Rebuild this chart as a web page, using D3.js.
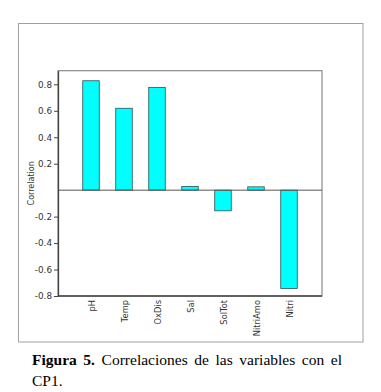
<!DOCTYPE html>
<html>
<head>
<meta charset="utf-8">
<script src="https://cdn.jsdelivr.net/npm/d3@7"></script>
<style>
  body { margin: 0; background: #fff; }
  svg { display: block; }
</style>
</head>
<body>
<div id="chart"></div>
<script>
const variables = ["pH", "Temp", "OxDis", "Sal", "SolTot", "NitriAmo", "Nitri"];
const correlations = [0.827, 0.619, 0.777, 0.027, -0.156, 0.025, -0.743];
const yTicks = [-0.8, -0.6, -0.4, -0.2, 0.2, 0.4, 0.6, 0.8];

const width = 381, height = 392;
const plot = { left: 58, right: 322, top: 70.7, bottom: 296 };

const svg = d3.select("#chart").append("svg")
  .attr("width", width)
  .attr("height", height);

// outer frame of the figure
svg.append("rect")
  .attr("x", 18.5).attr("y", 23.5)
  .attr("width", 344.5).attr("height", 318.5)
  .attr("fill", "none")
  .attr("stroke", "#a0a0a0")
  .attr("stroke-width", 1);

const x = d3.scalePoint()
  .domain(variables)
  .range([plot.left, plot.right])
  .padding(1);

const y = d3.scaleLinear()
  .domain([-0.8, 0.903])
  .range([plot.bottom, plot.top]);

const barW = 16.5;

// plot box
svg.append("rect")
  .attr("x", plot.left).attr("y", plot.top)
  .attr("width", plot.right - plot.left)
  .attr("height", plot.bottom - plot.top)
  .attr("fill", "none")
  .attr("stroke", "#8a8a8a")
  .attr("stroke-width", 1.2);

svg.append("g")
  .selectAll("rect")
  .data(variables.map((v, i) => ({ v, c: correlations[i] })))
  .join("rect")
  .attr("x", d => x(d.v) - barW / 2)
  .attr("y", d => y(Math.max(0, d.c)))
  .attr("width", barW)
  .attr("height", d => Math.abs(y(d.c) - y(0)))
  .attr("fill", "#00ffff")
  .attr("stroke", "#2f4f4f")
  .attr("stroke-width", 0.8);

// zero line
svg.append("line")
  .attr("x1", plot.left).attr("x2", plot.right)
  .attr("y1", y(0)).attr("y2", y(0))
  .attr("stroke", "#555")
  .attr("stroke-width", 1);

const yAxis = svg.append("g")
  .attr("transform", `translate(${plot.left},0)`)
  .call(d3.axisLeft(y).tickValues(yTicks).tickSize(4).tickSizeOuter(0)
    .tickFormat(d => d.toFixed(1)));
yAxis.select(".domain").attr("stroke", "#444").attr("stroke-width", 1.3);
yAxis.selectAll(".tick line").attr("stroke", "#444");
yAxis.selectAll(".tick text")
  .attr("font-family", "'DejaVu Sans', sans-serif")
  .attr("font-size", 8.8)
  .attr("fill", "#333")
  .attr("x", -6);

// bottom axis line
svg.append("line")
  .attr("x1", plot.left).attr("x2", plot.right)
  .attr("y1", plot.bottom).attr("y2", plot.bottom)
  .attr("stroke", "#444")
  .attr("stroke-width", 1.3);

svg.append("g")
  .selectAll("text")
  .data(variables)
  .join("text")
  .attr("transform", d => `translate(${x(d) + 3.5},${plot.bottom + 4}) rotate(-90)`)
  .attr("text-anchor", "end")
  .attr("font-family", "'DejaVu Sans', sans-serif")
  .attr("font-size", 8.3)
  .attr("fill", "#333")
  .text(d => d);

svg.append("text")
  .attr("transform", `translate(34,${(plot.top + plot.bottom) / 2}) rotate(-90)`)
  .attr("text-anchor", "middle")
  .attr("font-family", "'DejaVu Sans', sans-serif")
  .attr("font-size", 8)
  .attr("fill", "#333")
  .text("Correlation");

// caption, stretched to the column width like the justified original
const cap = svg.append("text")
  .attr("x", 32).attr("y", 364.5)
  .attr("font-family", "'Liberation Serif', serif")
  .attr("font-size", 15.5)
  .attr("fill", "#000");
cap.append("tspan").attr("font-weight", "bold").text("Figura 5.");
cap.append("tspan").text(" Correlaciones de las variables con el");
const capW = cap.node().getComputedTextLength();
cap.attr("word-spacing", Math.max(0, (310 - capW) / 7));

svg.append("text")
  .attr("x", 32).attr("y", 386)
  .attr("font-family", "'Liberation Serif', serif")
  .attr("font-size", 15.5)
  .attr("fill", "#000")
  .text("CP1.");
</script>
</body>
</html>
